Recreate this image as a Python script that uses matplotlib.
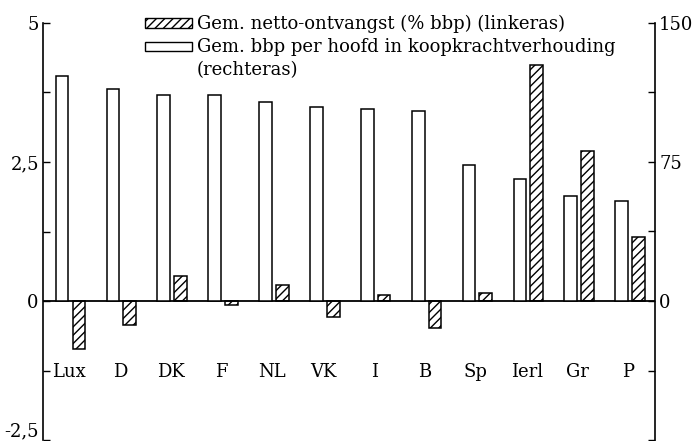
import matplotlib
matplotlib.use("Agg")
import matplotlib.pyplot as plt
from matplotlib.patches import Rectangle
import numpy as np

plt.rcParams['font.family'] = ['DejaVu Serif']
plt.rcParams['hatch.linewidth'] = 1.0

categories = ["Lux", "D", "DK", "F", "NL", "VK", "I", "B", "Sp", "Ierl", "Gr", "P"]
netto_ontvangst = [-0.87, -0.43, 0.45, -0.07, 0.29, -0.28, 0.11, -0.49, 0.15, 4.24, 2.70, 1.16]
bbp_per_hoofd = [121.4, 114.4, 111.2, 111.2, 107.2, 104.5, 103.4, 102.7, 73.4, 65.7, 56.7, 54.1]

left_ticks = [-2.5, -1.25, 0, 1.25, 2.5, 3.75, 5]
left_labels = ["-2,5", "", "0", "", "2,5", "", "5"]
right_ticks = [-75, -37.5, 0, 37.5, 75, 112.5, 150]
right_labels = ["", "", "0", "", "75", "", "150"]

legend_hatch = "Gem. netto-ontvangst (% bbp) (linkeras)"
legend_white_1 = "Gem. bbp per hoofd in koopkrachtverhouding"
legend_white_2 = "(rechteras)"

W, H = 696, 441
fig = plt.figure(figsize=(W / 100, H / 100), dpi=100)
ax_l, ax_r, ax_t, ax_b = 43, 655, 23, 440
ax = fig.add_axes([ax_l / W, 1 - ax_b / H, (ax_r - ax_l) / W, (ax_b - ax_t) / H])
ax2 = ax.twinx()

x = np.arange(len(categories))
bw = 0.25
off = 0.165
FS = 13

ax.bar(x + off, netto_ontvangst, width=bw, facecolor="white", edgecolor="black",
       linewidth=1.1, hatch="////", zorder=3)
ax2.bar(x - off, bbp_per_hoofd, width=bw, facecolor="white", edgecolor="black",
        linewidth=1.1, zorder=3)

ax.set_xlim(-0.54, 11.49)
ax.set_ylim(-2.5, 5)
ax2.set_ylim(-75, 150)

ax.axhline(0, color="black", linewidth=1.3, zorder=4)

for a in (ax, ax2):
    a.spines['top'].set_visible(False)
    a.spines['bottom'].set_visible(False)
    a.spines['left'].set_linewidth(1.2)
    a.spines['right'].set_linewidth(1.2)
ax.spines['right'].set_visible(False)
ax2.spines['left'].set_visible(False)

ax.set_xticks([])
ax.set_yticks(left_ticks)
ax.set_yticklabels(left_labels, fontsize=FS)
ax.tick_params(axis='y', direction='in', length=5, width=1.0, pad=3)
ax2.set_yticks(right_ticks)
ax2.set_yticklabels(right_labels, fontsize=FS)
ax2.tick_params(axis='y', direction='in', length=5, width=1.0, pad=3)
ax.get_yticklabels()[0].set_va('bottom')

for xi, lab in zip(x, categories):
    ax.text(xi - 0.03, -1.28, lab, ha='center', va='center', fontsize=FS)

def fx(px):
    return px / W

def fy(py):
    return 1 - py / H

fig.add_artist(Rectangle((fx(145), fy(28)), fx(47), 10 / H, transform=fig.transFigure,
                         facecolor="white", edgecolor="black", linewidth=1.0, hatch="////"))
fig.add_artist(Rectangle((fx(145), fy(51)), fx(47), 9 / H, transform=fig.transFigure,
                         facecolor="white", edgecolor="black", linewidth=1.0))
fig.text(fx(197), fy(24), legend_hatch, ha='left', va='center', fontsize=FS)
fig.text(fx(197), fy(47), legend_white_1, ha='left', va='center', fontsize=FS)
fig.text(fx(197), fy(70), legend_white_2, ha='left', va='center', fontsize=FS)

fig.savefig("out.png", dpi=100)
